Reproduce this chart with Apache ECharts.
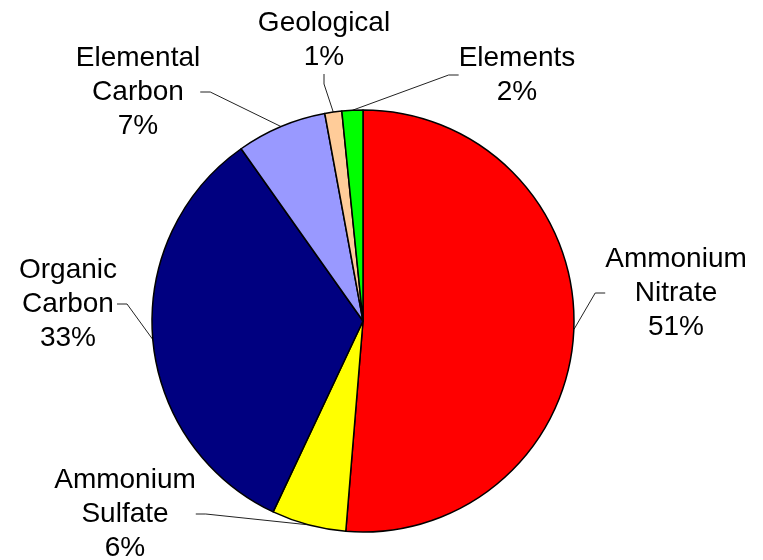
<!DOCTYPE html>
<html><head><meta charset="utf-8">
<script src="https://cdn.jsdelivr.net/npm/echarts@6/dist/echarts.min.js"></script>
<style>html,body{margin:0;padding:0;background:#fff}#c{width:763px;height:560px}</style>
</head><body><div id="c"></div>
<script>
var categories = ["Ammonium\nNitrate", "Ammonium\nSulfate", "Organic\nCarbon", "Elemental\nCarbon", "Geological", "Elements"];
var values = [51.3, 5.7, 33.2, 6.9, 1.3, 1.6];
var colors = ["#FF0000", "#FFFF00", "#000080", "#9999FF", "#FFCC99", "#00FF00"];
var labelPos = [[676, 293], [125, 514], [68, 304], [138, 92], [324, 40], [517, 75]];

var chart = echarts.init(document.getElementById('c'));
chart.setOption({
  animation: false,
  series: [{
    type: 'pie',
    center: [363, 321],
    radius: 211,
    startAngle: 90,
    clockwise: true,
    percentPrecision: 0,
    avoidLabelOverlap: false,
    data: categories.map(function (c, i) {
      return { name: c, value: values[i], itemStyle: { color: colors[i] } };
    }),
    itemStyle: { borderColor: '#000', borderWidth: 1.5 },
    label: {
      show: true,
      formatter: function (p) { return p.name + '\n' + Math.round(p.percent) + '%'; },
      fontFamily: 'Liberation Sans, Arial, sans-serif',
      fontSize: 28,
      lineHeight: 34,
      color: '#000',
      align: 'center'
    },
    labelLine: { show: true, lineStyle: { color: '#222', width: 1 }, length: 20, length2: 10 },
    labelLayout: function (p) {
      var pos = labelPos[p.dataIndex];
      return { x: pos[0], y: pos[1], align: 'center', verticalAlign: 'middle' };
    },
    emphasis: { disabled: true }
  }]
});
</script></body></html>
